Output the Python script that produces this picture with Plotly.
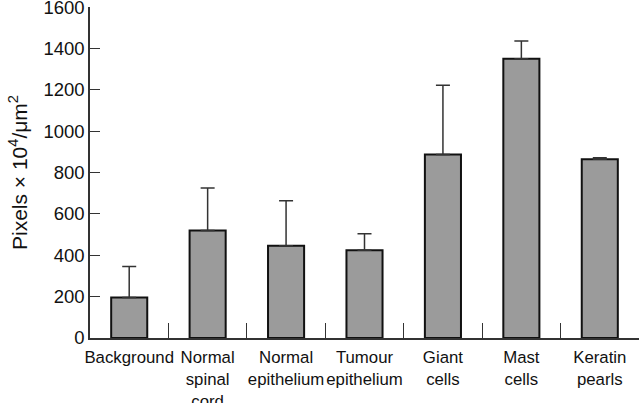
import plotly.graph_objects as go

categories = ["Background", "Normal<br>spinal<br>cord", "Normal<br>epithelium",
              "Tumour<br>epithelium", "Giant<br>cells", "Mast<br>cells", "Keratin<br>pearls"]
means = [196, 520, 446, 424, 888, 1351, 864]
errors_up = [150, 205, 218, 80, 334, 86, 8]
y_ticks = [0, 200, 400, 600, 800, 1000, 1200, 1400, 1600]

fig = go.Figure()
fig.add_trace(go.Bar(
    x=categories, y=means, width=0.46,
    marker=dict(color="#9b9b9b", line=dict(color="#111111", width=2)),
    error_y=dict(type="data", array=errors_up, arrayminus=[0]*len(means), symmetric=False,
                 color="#333333", thickness=1.5, width=7),
))

font = "Liberation Sans, Arial, Helvetica, sans-serif"
fig.update_layout(
    width=640, height=403,
    margin=dict(l=90, r=1, t=7, b=65, autoexpand=False),
    plot_bgcolor="white", paper_bgcolor="white",
    showlegend=False,
    font=dict(family=font, color="#111111"),
    bargap=0.54,
)
fig.update_xaxes(
    type="category", range=[-0.5, 6.5], automargin=False, tickangle=0,
    showline=True, linecolor="#333333", linewidth=1.5,
    ticks="inside", tickson="boundaries", ticklen=15, tickwidth=1.2, tickcolor="#333333",
    tickfont=dict(size=16.8, family=font, color="#111111"), ticklabelstandoff=3,
    showgrid=False, zeroline=False,
)
fig.update_yaxes(
    range=[0, 1601], tickvals=y_ticks, automargin=False, ticklabeloverflow="allow",
    showline=True, linecolor="#333333", linewidth=1.5,
    ticks="inside", ticklen=10, tickwidth=1.2, tickcolor="#333333",
    tickfont=dict(size=18.5, family=font, color="#111111"),
    showgrid=False, zeroline=False,
    title=dict(text="Pixels × 10<sup>4</sup>/μm<sup>2</sup>", font=dict(size=21, family=font, color="#111111"), standoff=10),
)
fig.write_html("out.html", config={"displayModeBar": False},
               post_script="document.body.style.margin='0';document.body.style.overflow='hidden';")
